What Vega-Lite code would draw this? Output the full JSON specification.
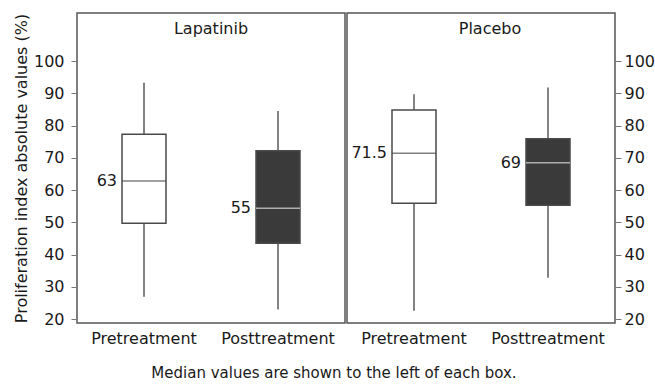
{
  "$schema": "https://vega.github.io/schema/vega-lite/v6.json",
  "padding": {"left": 12, "top": 12, "right": 0, "bottom": 0},
  "background": "white",
  "config": {
    "font": "DejaVu Sans",
    "view": {"stroke": "#555555", "strokeWidth": 1.5},
    "axis": {"labelFontSize": 16, "labelColor": "#1a1a1a", "titleColor": "#1a1a1a", "tickColor": "#777777", "grid": false, "domain": false, "labelOverlap": false},
    "title": {"color": "#1a1a1a", "fontWeight": "normal"}
  },
  "datasets": {
    "boxes": [
      {"panel": "Lapatinib", "group": "Pretreatment", "low": 26.9, "q1": 49.7, "median": 62.8, "q3": 77.3, "high": 93.3, "label": "63"},
      {"panel": "Lapatinib", "group": "Posttreatment", "low": 23.0, "q1": 43.5, "median": 54.4, "q3": 72.2, "high": 84.5, "label": "55"},
      {"panel": "Placebo", "group": "Pretreatment", "low": 22.6, "q1": 55.9, "median": 71.4, "q3": 84.8, "high": 89.7, "label": "71.5"},
      {"panel": "Placebo", "group": "Posttreatment", "low": 32.8, "q1": 55.3, "median": 68.5, "q3": 75.9, "high": 91.8, "label": "69"}
    ]
  },
  "title": {"text": "Median values are shown to the left of each box.", "orient": "bottom", "fontSize": 15, "fontWeight": "normal", "offset": 19, "anchor": "middle"},
  "spacing": 0,
  "resolve": {"scale": {"x": "independent", "y": "independent"}},
  "hconcat": [
    {
      "width": 268,
      "height": 310,
      "title": {"text": "Lapatinib", "offset": -37, "baseline": "alphabetic", "fontSize": 16, "frame": "group"},
      "data": {"name": "boxes"},
      "transform": [{"filter": "datum.panel === 'Lapatinib'"}],
      "encoding": {
        "x": {"field": "group", "type": "nominal", "sort": ["Pretreatment", "Posttreatment"], "scale": {"paddingInner": 0.5, "paddingOuter": 0.25}, "axis": {"title": null, "labelAngle": 0, "ticks": false, "labelPadding": 7}}
      },
      "layer": [
        {"mark": {"type": "rule", "color": "#5a5a5a", "strokeWidth": 1.5},
         "encoding": {"y": {"field": "low", "type": "quantitative", "scale": {"domain": [18.8, 114.9], "nice": false, "zero": false},
           "axis": {"title": "Proliferation index absolute values (%)", "titleFontSize": 16, "titleFontWeight": "normal", "values": [20, 30, 40, 50, 60, 70, 80, 90, 100], "tickSize": 6, "labelPadding": 7, "titlePadding": 4}},
           "y2": {"field": "high"}}},
        {"mark": {"type": "bar", "width": 44, "stroke": "#4a4a4a", "strokeWidth": 1.5},
         "encoding": {"y": {"field": "q1", "type": "quantitative",
           "axis": {"title": "Proliferation index absolute values (%)", "titleFontSize": 16, "titleFontWeight": "normal", "values": [20, 30, 40, 50, 60, 70, 80, 90, 100], "tickSize": 6, "labelPadding": 7, "titlePadding": 4}}, "y2": {"field": "q3"},
           "fill": {"field": "group", "type": "nominal", "scale": {"domain": ["Pretreatment", "Posttreatment"], "range": ["#ffffff", "#3a3a3a"]}, "legend": null}}},
        {"mark": {"type": "tick", "size": 44, "thickness": 1.5},
         "encoding": {"y": {"field": "median", "type": "quantitative",
           "axis": {"title": "Proliferation index absolute values (%)", "titleFontSize": 16, "titleFontWeight": "normal", "values": [20, 30, 40, 50, 60, 70, 80, 90, 100], "tickSize": 6, "labelPadding": 7, "titlePadding": 4}},
           "color": {"field": "group", "type": "nominal", "scale": {"domain": ["Pretreatment", "Posttreatment"], "range": ["#4a4a4a", "#e0e0e0"]}, "legend": null}}},
        {"mark": {"type": "text", "align": "right", "baseline": "middle", "dx": -27, "fontSize": 16, "color": "#1a1a1a"},
         "encoding": {"y": {"field": "median", "type": "quantitative",
           "axis": {"title": "Proliferation index absolute values (%)", "titleFontSize": 16, "titleFontWeight": "normal", "values": [20, 30, 40, 50, 60, 70, 80, 90, 100], "tickSize": 6, "labelPadding": 7, "titlePadding": 4}}, "text": {"field": "label"}}}
      ]
    },
    {
      "width": 268,
      "height": 310,
      "title": {"text": "Placebo", "offset": -37, "baseline": "alphabetic", "fontSize": 16, "dx": 9, "frame": "group"},
      "data": {"name": "boxes"},
      "transform": [{"filter": "datum.panel === 'Placebo'"}],
      "encoding": {
        "x": {"field": "group", "type": "nominal", "sort": ["Pretreatment", "Posttreatment"], "scale": {"paddingInner": 0.5, "paddingOuter": 0.25}, "axis": {"title": null, "labelAngle": 0, "ticks": false, "labelPadding": 7}}
      },
      "layer": [
        {"mark": {"type": "rule", "color": "#5a5a5a", "strokeWidth": 1.5},
         "encoding": {"y": {"field": "low", "type": "quantitative", "scale": {"domain": [18.8, 114.9], "nice": false, "zero": false},
           "axis": {"title": null, "orient": "right", "values": [20, 30, 40, 50, 60, 70, 80, 90, 100], "tickSize": 6, "labelPadding": 3}},
           "y2": {"field": "high"}}},
        {"mark": {"type": "bar", "width": 44, "stroke": "#4a4a4a", "strokeWidth": 1.5},
         "encoding": {"y": {"field": "q1", "type": "quantitative",
           "axis": {"title": null, "orient": "right", "values": [20, 30, 40, 50, 60, 70, 80, 90, 100], "tickSize": 6, "labelPadding": 3}}, "y2": {"field": "q3"},
           "fill": {"field": "group", "type": "nominal", "scale": {"domain": ["Pretreatment", "Posttreatment"], "range": ["#ffffff", "#3a3a3a"]}, "legend": null}}},
        {"mark": {"type": "tick", "size": 44, "thickness": 1.5},
         "encoding": {"y": {"field": "median", "type": "quantitative",
           "axis": {"title": null, "orient": "right", "values": [20, 30, 40, 50, 60, 70, 80, 90, 100], "tickSize": 6, "labelPadding": 3}},
           "color": {"field": "group", "type": "nominal", "scale": {"domain": ["Pretreatment", "Posttreatment"], "range": ["#4a4a4a", "#e0e0e0"]}, "legend": null}}},
        {"mark": {"type": "text", "align": "right", "baseline": "middle", "dx": -27, "fontSize": 16, "color": "#1a1a1a"},
         "encoding": {"y": {"field": "median", "type": "quantitative",
           "axis": {"title": null, "orient": "right", "values": [20, 30, 40, 50, 60, 70, 80, 90, 100], "tickSize": 6, "labelPadding": 3}}, "text": {"field": "label"}}}
      ]
    }
  ]
}
